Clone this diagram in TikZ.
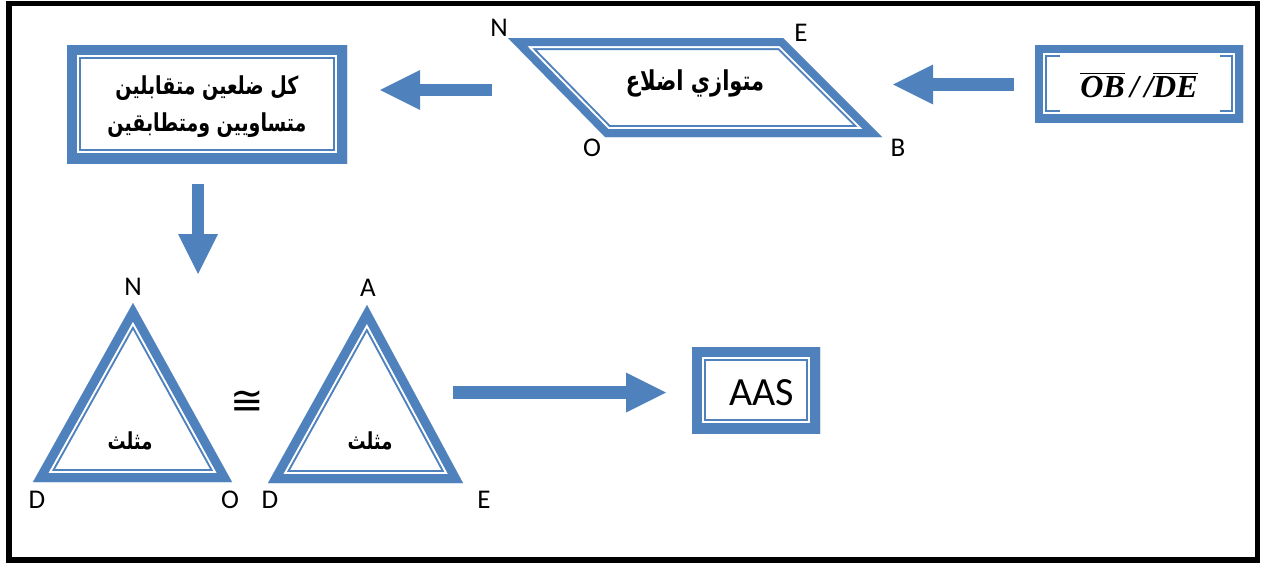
\documentclass[tikz,border=0pt]{standalone}
\usepackage{fontspec}
\usepackage{amsmath}
\usepackage{graphicx}
\setmainfont{Carlito}
\newfontfamily\arabicfont[Script=Arabic]{DejaVu Sans}
\newfontfamily\symfont{DejaVu Sans}
\newfontfamily\serifbi{Liberation Serif}
\TeXXeTstate=1
\usetikzlibrary{arrows.meta}
\definecolor{frameblue}{RGB}{79,129,189}

% thick outer band + thin inner line, clipped to the shape outline
% #1 closed path, #2 outer blue width, #3 white width, #4 band width
\newcommand\bandframe[4]{%
  \begin{scope}
    \clip #1;
    \draw[frameblue, line width=#2, line join=miter] #1;
    \draw[white, line width=#3, line join=miter] #1;
    \draw[frameblue, line width=#4, line join=miter] #1;
  \end{scope}}

% Arabic captions are set a little taller than the font's own shapes
\newcommand\tallar[1]{\scalebox{1}[1.3]{#1}}
\newcommand\segname[1]{\ensuremath{\overline{\hbox{\serifbi\bfseries\itshape #1}}}}

\tikzset{
  lbl/.style={font=\fontsize{27}{29}\selectfont, inner sep=0pt},
  artxt/.style={font=\fontsize{21}{28}\selectfont\arabicfont\bfseries, align=center, inner sep=0pt},
  boxnode/.style={inner sep=0pt, outer sep=0pt},
  blockarrow/.style={draw=frameblue, line width=12.5pt,
    -{Triangle[length=40pt, width=40pt, line width=0pt]}},
}

\begin{document}
\begin{tikzpicture}[x=1pt, y=-1pt]
\useasboundingbox (0,0) rectangle (1261,565);

% page frame
\draw[line width=5.5pt] (9,3.5) rectangle (1257.5,560);

% ---- given: OB // DE
\node[boxnode, minimum width=208pt, minimum height=77pt] (given) at (1139,83.5) {};
\bandframe{(given.south west) rectangle (given.north east)}{24pt}{20pt}{16pt}
\fill[white] (1060,54) rectangle (1220,113);
\node[inner sep=0pt, font=\fontsize{32}{34}\selectfont] (giventxt) at (1139,85)
  {\segname{OB}{\serifbi\bfseries\itshape\,/\,/}\segname{DE}};

% ---- parallelogram NEBO
\coordinate (pN) at (508,38);
\coordinate (pE) at (783,38);
\coordinate (pB) at (882,137);
\coordinate (pO) at (605,137);
\bandframe{(pN) -- (pE) -- (pB) -- (pO) -- cycle}{24pt}{20pt}{16pt}
\node[artxt] (para) at (695,83) {\tallar{\beginR متوازي اضلاع\endR}};
\node[lbl] (lN) at (499,28) {N};
\node[lbl] (lE) at (801,33) {E};
\node[lbl] (lO) at (592,148) {O};
\node[lbl] (lB) at (898,148) {B};

% ---- property of opposite sides
\node[boxnode, minimum width=280pt, minimum height=118pt] (prop) at (207,104) {};
\bandframe{(prop.south west) rectangle (prop.north east)}{28pt}{24pt}{20pt}
\node[artxt, font=\fontsize{19}{28.5}\selectfont\arabicfont\bfseries] (proptxt) at (207,106)
  {\tallar{\begin{tabular}{@{}c@{}}\beginR كل ضلعين متقابلين\endR\\ \beginR متساويين ومتطابقين\endR\end{tabular}}};

% ---- triangle NDO
\coordinate (tN) at (133,303);
\coordinate (tO) at (232,482);
\coordinate (tD) at (33,482);
\bandframe{(tN) -- (tO) -- (tD) -- cycle}{26pt}{22pt}{18pt}
\node[artxt, font=\fontsize{18}{22}\selectfont\arabicfont\bfseries] (tri1) at (130,441) {\tallar{\beginR مثلث\endR}};
\node[lbl] (l1N) at (133,287) {N};
\node[lbl] (l1D) at (37,500) {D};
\node[lbl] (l1O) at (230,500) {O};

% congruence sign
\node[inner sep=0pt, font=\fontsize{40}{40}\selectfont\symfont] (cong) at (247,403) {≅};

% ---- triangle ADE
\coordinate (sA) at (367,305);
\coordinate (sE) at (463,483);
\coordinate (sD) at (268,483);
\bandframe{(sA) -- (sE) -- (sD) -- cycle}{26pt}{22pt}{18pt}
\node[artxt, font=\fontsize{18}{22}\selectfont\arabicfont\bfseries] (tri2) at (370,441) {\tallar{\beginR مثلث\endR}};
\node[lbl] (l2A) at (368,288) {A};
\node[lbl] (l2D) at (270,500) {D};
\node[lbl] (l2E) at (484,500) {E};

% ---- result
\node[boxnode, minimum width=128pt, minimum height=86pt] (aas) at (756,390) {};
\bandframe{(aas.south west) rectangle (aas.north east)}{28pt}{24pt}{20pt}
\node[inner sep=0pt, font=\fontsize{40}{42}\selectfont] (aastxt) at (762,393) {AAS};

% ---- block arrows
\coordinate (a1s) at (1014,84.5);
\coordinate (a1e) at (893,84.5);
\coordinate (a2s) at (492,90);
\coordinate (a2e) at (380,90);
\coordinate (a3s) at (198,184);
\coordinate (a3e) at (198,274);
\coordinate (a4s) at (453,392.5);
\coordinate (a4e) at (666,392.5);
\draw[blockarrow] (a1s) -- (a1e);
\draw[blockarrow] (a2s) -- (a2e);
\draw[blockarrow] (a3s) -- (a3e);
\draw[blockarrow] (a4s) -- (a4e);
\end{tikzpicture}
\end{document}
